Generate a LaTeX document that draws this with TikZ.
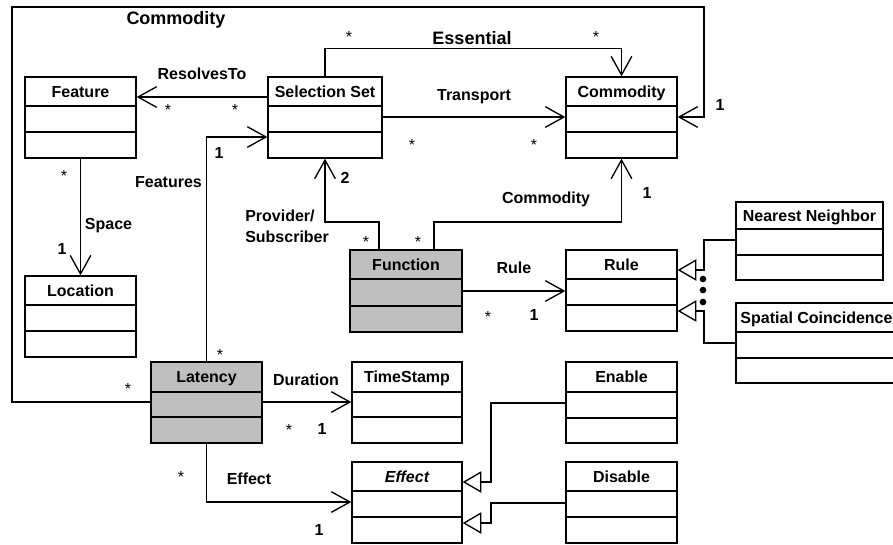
\documentclass[tikz,border=0pt]{standalone}
\usepackage{fontspec}
\setmainfont{Liberation Sans}
\usetikzlibrary{arrows.meta,fit}

\tikzset{
  boxline/.style={line width=1pt},
  frame/.style={draw, boxline, inner sep=0pt},
  title/.style={font=\bfseries\fontsize{12}{14}\selectfont, inner sep=0pt,
                text height=8.6pt, text depth=0pt},
  lbl/.style={font=\bfseries\fontsize{12}{14}\selectfont, inner sep=0pt,
              text height=8.6pt, text depth=0pt},
  biglbl/.style={font=\bfseries\fontsize{13.5}{16}\selectfont, inner sep=0pt,
                 text height=9.7pt, text depth=0pt},
  mult/.style={font=\fontsize{12}{14}\selectfont, inner sep=0pt,
               anchor=base, yshift=-6.4pt},
  conn/.style={line width=1pt},
  assoc/.style={conn, -{Straight Barb[length=14pt, width=15.5pt, line width=1pt]}},
  gen/.style={conn, -{Triangle[open, fill=white, length=14pt, width=16pt, line width=1pt]}},
}

% class box: [fill] name, left, top, right, line 1, line 2, bottom, title
\newcommand{\classbox}[9][white]{%
  \coordinate (#2-nw) at (#3,#4);
  \coordinate (#2-se) at (#5,#8);
  \node[frame, fill=#1, fit=(#2-nw)(#2-se)] (#2) {};
  \draw[boxline] (#3,#6) -- (#5,#6) (#3,#7) -- (#5,#7);
  \node[title] (#2-t) at ({(#3+#5)/2},{(#4+#6)/2}) {#9};
}

\begin{document}
\begin{tikzpicture}[x=0.75pt, y=-0.75pt]
\useasboundingbox (0,0) rectangle (893,544);

% classes
\classbox{feature}{25}{77}{136}{106}{132}{158}{Feature}
\classbox{selset}{268}{77}{382}{106}{132}{158}{Selection Set}
\classbox{commodity}{566}{77}{677}{106}{132}{158}{Commodity}
\classbox{location}{25}{276}{136}{305}{331}{357}{Location}
\classbox[black!25]{function}{350}{250}{462}{279}{306}{332}{Function}
\classbox{rule}{566}{250}{677}{279}{305}{331}{Rule}
\classbox{nn}{736}{202}{883}{229}{255}{280}{Nearest Neighbor}
\classbox{spatial}{736}{303}{897}{332}{358}{383}{Spatial Coincidence}
\classbox[black!25]{latency}{151}{362}{262}{392}{417}{443}{Latency}
\classbox{timestamp}{352}{362}{462}{392}{417}{443}{TimeStamp}
\classbox{enable}{566}{362}{677}{392}{418}{443}{Enable}
\classbox{effect}{352}{462}{462}{491}{517}{543}{\itshape Effect}
\classbox{disable}{566}{462}{677}{491}{517}{543}{Disable}

% associations
\draw[assoc] (latency.west |- 0,402) -- (12,402) -- (12,7) -- (704,7) -- (704,117)
  -- (commodity.east |- 0,117);
\draw[assoc] (selset.north) -- ++(0,-28) -| (commodity.north);
\draw[assoc] (selset.east |- 0,117) -- (commodity.west |- 0,117);
\draw[assoc] (selset.west |- 0,97) -- (feature.east |- 0,97);
\draw[assoc] (latency.north) |- (selset.west |- 0,137);
\draw[assoc] (feature.south) -- (location.north);
\draw[assoc] (379,0 |- function.north) |- (325,222) -- (selset.south);
\draw[assoc] (434,0 |- function.north) |- (621.5,222) -- (commodity.south);
\draw[assoc] (function.east |- 0,291) -- (rule.west |- 0,291);
\draw[assoc] (latency.east |- 0,402) -- (timestamp.west |- 0,402);
\draw[assoc] (latency.south) |- (effect.west |- 0,502);

% generalizations
\draw[gen] (nn.west |- 0,240) -- (704,240) -- (704,270) -- (rule.east |- 0,270);
\draw[gen] (spatial.west |- 0,343) -- (704,343) -- (704,311) -- (rule.east |- 0,311);
\draw[gen] (enable.west |- 0,403) -- (491,403) -- (491,482) -- (effect.east |- 0,482);
\draw[gen] (disable.west |- 0,503) -- (491,503) -- (491,523) -- (effect.east |- 0,523);

% ellipsis between the subclasses of Rule
\fill (703,279) circle[radius=2.5pt] (703,290) circle[radius=2.5pt] (703,302) circle[radius=2.5pt];

% role names
\node[biglbl] (l-comm) at (176,18) {Commodity};
\node[biglbl] (l-ess) at (472,38) {Essential};
\node[lbl] (l-res) at (202,74) {ResolvesTo};
\node[lbl] (l-trans) at (474,95) {Transport};
\node[lbl] (l-feat) at (168.5,182) {Features};
\node[lbl] (l-space) at (108.5,224) {Space};
\node[lbl, anchor=west] (l-prov) at (245,215.7) {Provider/};
\node[lbl, anchor=west] (l-subs) at (245,236.7) {Subscriber};
\node[lbl] (l-comm2) at (546,198) {Commodity};
\node[lbl] (l-rule) at (514,268) {Rule};
\node[lbl] (l-dur) at (306,380) {Duration};
\node[lbl] (l-eff) at (249,479) {Effect};

% multiplicities
\node[lbl] (m1) at (720,105) {1};
\node[mult] (m2) at (128,386) {*};
\node[mult] (m3) at (349,34) {*};
\node[mult] (m4) at (596,34) {*};
\node[mult] (m5) at (168,107) {*};
\node[mult] (m6) at (235,107) {*};
\node[mult] (m7) at (412,142) {*};
\node[mult] (m8) at (534,142) {*};
\node[lbl] (m9) at (219,153) {1};
\node[mult] (m10) at (64,173) {*};
\node[lbl] (m11) at (62,249) {1};
\node[lbl] (m12) at (345,178) {2};
\node[lbl] (m13) at (647,193) {1};
\node[mult] (m14) at (366,239) {*};
\node[mult] (m15) at (418,239) {*};
\node[mult] (m16) at (488,314) {*};
\node[lbl] (m17) at (534,315) {1};
\node[mult] (m18) at (220,352) {*};
\node[mult] (m19) at (289,427) {*};
\node[lbl] (m20) at (322,429) {1};
\node[mult] (m21) at (181,474) {*};
\node[lbl] (m22) at (319,530) {1};
\end{tikzpicture}
\end{document}
